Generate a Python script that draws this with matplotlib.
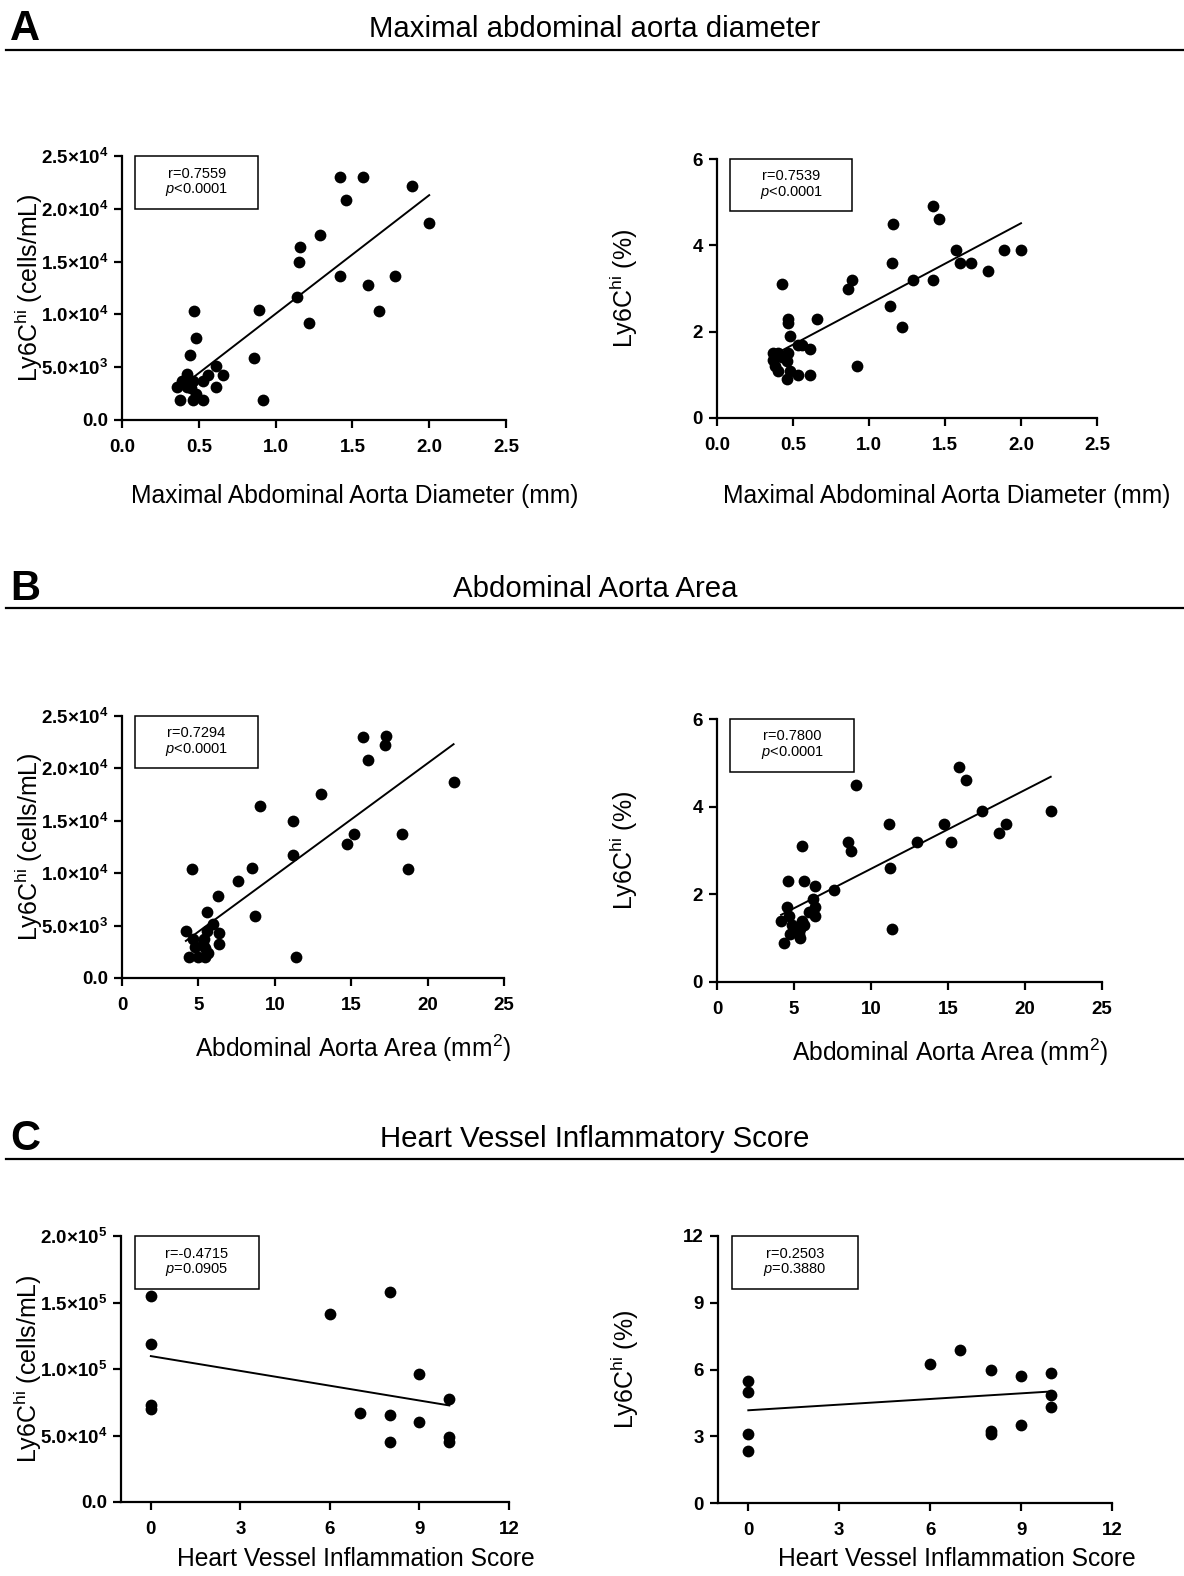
import numpy as np
import matplotlib
matplotlib.use("Agg")
import matplotlib.pyplot as plt
from matplotlib.patches import Rectangle
from matplotlib.lines import Line2D

plt.rcParams['font.family'] = ['Liberation Sans', 'DejaVu Sans']
plt.rcParams['mathtext.fontset'] = 'custom'
plt.rcParams['mathtext.rm'] = 'Liberation Sans'
plt.rcParams['mathtext.it'] = 'Liberation Sans:italic'
plt.rcParams['mathtext.bf'] = 'Liberation Sans:bold'

# --- data ---
# A: maximal abdominal aorta diameter (mm)
diam_cells_x = [1.42, 1.57, 1.89, 1.46, 2.00, 1.29, 1.16, 1.15, 1.42, 1.78, 1.60, 1.14, 1.67, 1.22,
                0.89, 0.86, 0.92, 0.47, 0.48, 0.44, 0.61, 0.66, 0.56, 0.53, 0.61, 0.53, 0.46, 0.38,
                0.42, 0.36, 0.39, 0.42, 0.46, 0.48, 0.45]
diam_cells_y = [23000, 23000, 22200, 20800, 18700, 17550, 16400, 15000, 13600, 13600, 12800, 11650,
                10300, 9200, 10450, 5850, 1900, 10300, 7750, 6200, 5100, 4300, 4300, 3650, 3100,
                1900, 1900, 1900, 4400, 3150, 3700, 3150, 3700, 2500, 3000]

diam_pct_x = [1.42, 1.46, 1.16, 1.57, 1.89, 2.00, 1.15, 1.60, 1.67, 1.78, 1.29, 1.42, 0.89, 0.86,
              1.14, 1.22, 0.92, 0.43, 0.47, 0.47, 0.48, 0.66, 0.53, 0.56, 0.61, 0.61, 0.53, 0.46,
              0.48, 0.37, 0.40, 0.37, 0.38, 0.40, 0.47, 0.46, 0.43]
diam_pct_y = [4.9, 4.6, 4.5, 3.9, 3.9, 3.9, 3.6, 3.6, 3.6, 3.4, 3.2, 3.2, 3.2, 3.0, 2.6, 2.1, 1.2,
              3.1, 2.3, 2.2, 1.9, 2.3, 1.7, 1.7, 1.6, 1.0, 1.0, 0.9, 1.1, 1.5, 1.5, 1.35, 1.2, 1.1,
              1.5, 1.33, 1.42]

# B: abdominal aorta area (mm2)
area_cells_x = [15.8, 17.3, 17.2, 16.1, 21.7, 13.0, 9.0, 11.2, 11.2, 14.7, 15.2, 18.3, 18.7, 8.5,
                7.6, 8.7, 11.4, 4.6, 6.25, 5.56, 5.95, 6.36, 6.36, 5.56, 4.18, 4.64, 4.8, 5.38,
                5.45, 4.36, 4.95, 5.45, 5.66, 5.3]
area_cells_y = [23000, 23100, 22200, 20800, 18700, 17550, 16450, 15000, 11700, 12800, 13700, 13700,
                10400, 10450, 9300, 5900, 2000, 10400, 7800, 6300, 5150, 4300, 3250, 4450, 4450,
                3750, 3000, 3750, 2850, 2000, 2000, 2000, 2400, 3200]

area_pct_x = [15.74, 16.15, 9.0, 17.23, 21.67, 11.17, 14.74, 18.74, 18.33, 12.99, 15.17, 8.5, 8.68,
              11.23, 7.6, 11.39, 5.54, 4.59, 5.67, 6.34, 6.26, 6.39, 6.39, 5.95, 4.55, 4.7, 4.16,
              4.87, 4.76, 4.33, 5.5, 5.63, 5.41, 5.41, 5.32]
area_pct_y = [4.9, 4.6, 4.5, 3.9, 3.9, 3.6, 3.6, 3.6, 3.4, 3.2, 3.2, 3.2, 3.0, 2.6, 2.1, 1.2, 3.1,
              2.3, 2.3, 2.2, 1.9, 1.7, 1.5, 1.6, 1.7, 1.5, 1.4, 1.3, 1.1, 0.9, 1.4, 1.3, 1.2, 1.0, 1.1]

# C: heart vessel inflammation score
score_x = [0, 0, 0, 0, 6, 7, 8, 8, 8, 9, 9, 10, 10, 10]
score_cells_y = [154600, 119000, 72700, 69900, 141300, 67200, 157900, 65400, 45100, 96200, 59900,
                 77200, 48600, 45400]
score_pct_y = [5.47, 4.99, 3.12, 2.34, 6.23, 6.86, 5.98, 3.24, 3.12, 5.71, 3.49, 5.83, 4.84, 4.31]

stats_text = ['r=0.7559\n$\\it{p}$<0.0001', 'r=0.7539\n$\\it{p}$<0.0001',
              'r=0.7294\n$\\it{p}$<0.0001', 'r=0.7800\n$\\it{p}$<0.0001',
              'r=-0.4715\n$\\it{p}$=0.0905', 'r=0.2503\n$\\it{p}$=0.3880']

cells_ticks_1e4 = [0, 5000, 10000, 15000, 20000, 25000]
cells_labels_1e4 = ['0.0', '5.0×10$^{\\mathbf{3}}$', '1.0×10$^{\\mathbf{4}}$', '1.5×10$^{\\mathbf{4}}$',
                    '2.0×10$^{\\mathbf{4}}$', '2.5×10$^{\\mathbf{4}}$']
cells_ticks_1e5 = [0, 50000, 100000, 150000, 200000]
cells_labels_1e5 = ['0.0', '5.0×10$^{\\mathbf{4}}$', '1.0×10$^{\\mathbf{5}}$', '1.5×10$^{\\mathbf{5}}$',
                    '2.0×10$^{\\mathbf{5}}$']

W, H = 1184, 1576
fig = plt.figure(figsize=(W / 100, H / 100), dpi=100)

def px_axes(l, r, t, b):
    return fig.add_axes([l / W, 1 - b / H, (r - l) / W, (b - t) / H])

ylab_cells = 'Ly6C$^{\\mathregular{hi}}$ (cells/mL)'
ylab_pct = 'Ly6C$^{\\mathregular{hi}}$ (%)'

panels = [
    # x, y, axes box (px), xlim, xticks, ylim, yticks, ylabels, xlabel, ylabel
    (diam_cells_x, diam_cells_y, (122, 506, 156, 420), (0, 2.5), [0, 0.5, 1, 1.5, 2, 2.5],
     (0, 25000), cells_ticks_1e4, cells_labels_1e4, 'Maximal Abdominal Aorta Diameter (mm)', ylab_cells),
    (diam_pct_x, diam_pct_y, (717, 1097, 159, 418), (0, 2.5), [0, 0.5, 1, 1.5, 2, 2.5],
     (0, 6), [0, 2, 4, 6], ['0', '2', '4', '6'], 'Maximal Abdominal Aorta Diameter (mm)', ylab_pct),
    (area_cells_x, area_cells_y, (122, 504, 716, 978), (0, 25), [0, 5, 10, 15, 20, 25],
     (0, 25000), cells_ticks_1e4, cells_labels_1e4, 'Abdominal Aorta Area (mm$^{\\mathregular{2}}$)', ylab_cells),
    (area_pct_x, area_pct_y, (717, 1102, 719, 982), (0, 25), [0, 5, 10, 15, 20, 25],
     (0, 6), [0, 2, 4, 6], ['0', '2', '4', '6'], 'Abdominal Aorta Area (mm$^{\\mathregular{2}}$)', ylab_pct),
    (score_x, score_cells_y, (121, 509, 1236, 1502), (-1, 12), [0, 3, 6, 9, 12],
     (0, 200000), cells_ticks_1e5, cells_labels_1e5, 'Heart Vessel Inflammation Score', ylab_cells),
    (score_x, score_pct_y, (718, 1112, 1236, 1503), (-1, 12), [0, 3, 6, 9, 12],
     (0, 12), [0, 3, 6, 9, 12], ['0', '3', '6', '9', '12'], 'Heart Vessel Inflammation Score', ylab_pct),
]

xlabel_drop = [83, 85, 79, 79, 64, 63]

for i, (x, y, box, xlim, xticks, ylim, yticks, ylabels, xlabel, ylabel) in enumerate(panels):
    l, r, t, b = box
    ax = px_axes(l, r, t, b)
    x = np.array(x, float)
    y = np.array(y, float)
    ax.scatter(x, y, s=72, color='black', linewidths=0, clip_on=False, zorder=3)
    # linear regression line
    k, c = np.polyfit(x, y, 1)
    xs = np.array([x.min(), x.max()])
    ax.plot(xs, k * xs + c, color='black', lw=1.4, zorder=2)

    ax.set_xlim(*xlim)
    ax.set_ylim(*ylim)
    ax.set_xticks(xticks)
    ax.set_xticklabels(['%g' % v if xlim[1] > 3 else '%.1f' % v for v in xticks])
    ax.set_yticks(yticks)
    ax.set_yticklabels(ylabels)
    for s in ['top', 'right']:
        ax.spines[s].set_visible(False)
    for s in ['left', 'bottom']:
        ax.spines[s].set_linewidth(1.6)
    ax.tick_params(direction='out', length=6, width=1.6, labelsize=13.5)
    ax.tick_params(axis='x', pad=8)
    ax.tick_params(axis='y', pad=4)
    for lab in ax.get_xticklabels() + ax.get_yticklabels():
        lab.set_fontweight('bold')

    # stats box
    ax.add_patch(Rectangle((0.035, 0.80), 0.32, 0.20, transform=ax.transAxes, fill=False,
                           lw=1.1, edgecolor='black', clip_on=False))
    ax.text(0.195, 0.90, stats_text[i], transform=ax.transAxes, ha='center', va='center',
            fontsize=10.5, linespacing=1.05)

    # axis labels
    fig.text((l + 0.605 * (r - l)) / W, 1 - (b + xlabel_drop[i]) / H, xlabel, ha='center',
             va='baseline', fontsize=17.7)
    fig.text((l - 93) / W, 1 - ((t + b) / 2) / H, ylabel, ha='center', va='center',
             rotation=90, fontsize=18)

# section headers
headers = [('A', 'Maximal abdominal aorta diameter', 40, 37, 50),
           ('B', 'Abdominal Aorta Area', 600, 597, 608),
           ('C', 'Heart Vessel Inflammatory Score', 1150, 1147, 1159)]
for letter, title, yl, yt, yline in headers:
    fig.text(10 / W, 1 - yl / H, letter, fontsize=30, fontweight='bold', va='baseline', ha='left')
    fig.text(595 / W, 1 - yt / H, title, fontsize=21.2, va='baseline', ha='center')
    fig.add_artist(Line2D([6 / W, 1.0], [1 - yline / H, 1 - yline / H], color='black', lw=1.6))

fig.savefig('out.png', dpi=100)
